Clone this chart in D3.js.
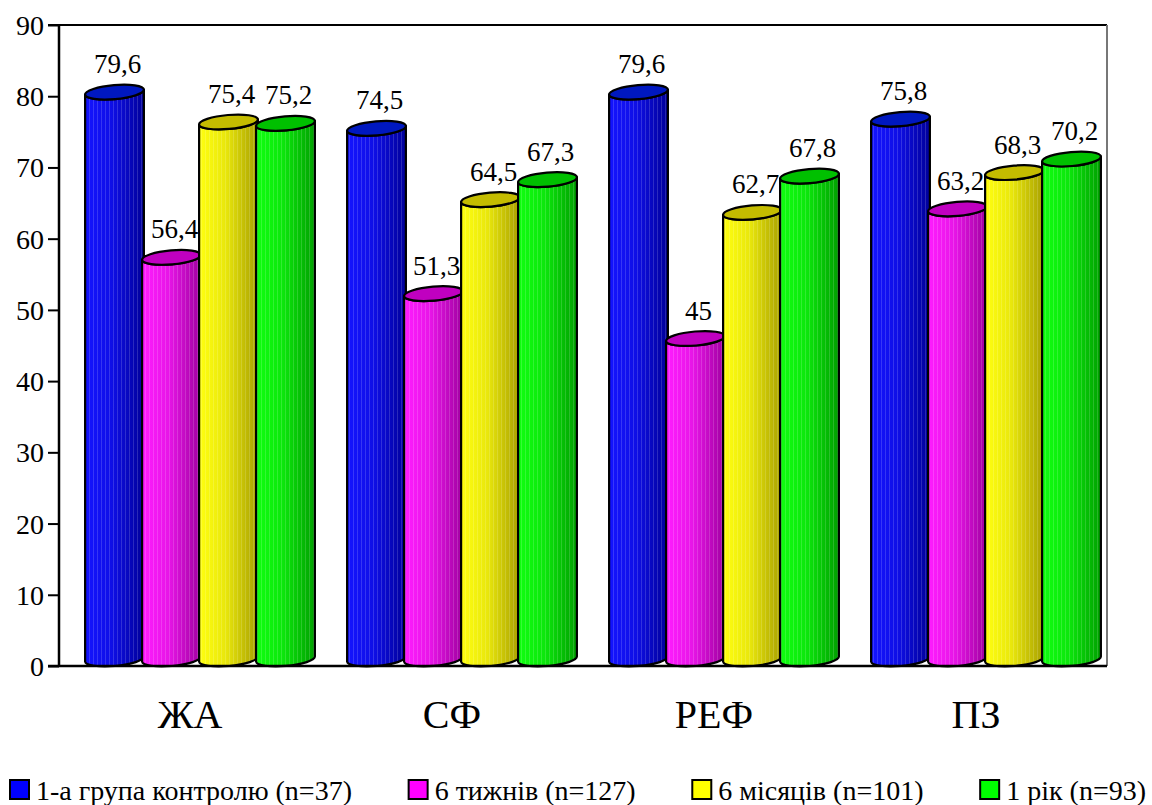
<!DOCTYPE html>
<html><head><meta charset="utf-8">
<script src="https://cdn.jsdelivr.net/npm/d3@7"></script>
<style>
#c, #c text, #c g { font-family: "Liberation Serif", Tinos, "Times New Roman", serif; }
</style>
</head>
<body style="margin:0;background:#fff"><svg id="c" width="1152" height="805" font-family="Liberation Serif, Tinos, Times New Roman, serif"></svg>
<script>
const categories = ["ЖА", "СФ", "РЕФ", "ПЗ"];
const seriesNames = ["1-а група контролю (n=37)", "6 тижнів (n=127)", "6 місяців (n=101)", "1 рік (n=93)"];
const control = [79.6, 74.5, 79.6, 75.8];
const weeks6 = [56.4, 51.3, 45, 63.2];
const months6 = [75.4, 64.5, 62.7, 68.3];
const year1 = [75.2, 67.3, 67.8, 70.2];
const series = [control, weeks6, months6, year1];
const yTicks = [0, 10, 20, 30, 40, 50, 60, 70, 80, 90];
const colors = [
  {light:"#1414ff", dark:"#00009a", top:"#0018c0", legend:"#0000ff"},
  {light:"#ff1cff", dark:"#a000a0", top:"#c000c0", legend:"#ff00ff"},
  {light:"#ffff10", dark:"#a8a000", top:"#c4bc00", legend:"#ffff00"},
  {light:"#10ff10", dark:"#00a000", top:"#00c000", legend:"#00ff00"}
];
const FONT = "Liberation Serif, Tinos, Times New Roman, serif";

const svg = d3.select("#c");
const L = 59, R = 1107, T = 25, B = 666;
const x = d3.scaleBand().domain(categories).range([L, R]);
const y = d3.scaleLinear().domain([0, 90]).range([B, T]);
const inner = d3.scaleBand().domain(d3.range(4)).range([-114, 114]);
const dx = 10, dy = 7, rx = 29.5, ry = 7, ang = -5;
const rad = ang * Math.PI / 180, cs = Math.cos(rad), sn = Math.sin(rad);

const defs = svg.append("defs");
colors.forEach((c, i) => {
  const g = defs.append("linearGradient").attr("id", "g" + i).attr("x1", 0).attr("x2", 1).attr("y1", 0).attr("y2", 0);
  g.append("stop").attr("offset", "0%").attr("stop-color", c.light);
  g.append("stop").attr("offset", "45%").attr("stop-color", d3.interpolateRgb(c.light, c.dark)(0.25));
  g.append("stop").attr("offset", "100%").attr("stop-color", c.dark);
});
const pat = defs.append("pattern").attr("id", "stripes").attr("patternUnits", "userSpaceOnUse").attr("width", 4).attr("height", 10);
pat.append("rect").attr("x", 1).attr("y", 0).attr("width", 0.7).attr("height", 10).attr("fill", "#fff").attr("opacity", 0.22);

svg.append("line").attr("x1", 48).attr("x2", R).attr("y1", T).attr("y2", T).attr("stroke", "#000").attr("stroke-width", 2);
svg.append("line").attr("x1", R).attr("x2", R).attr("y1", T).attr("y2", B).attr("stroke", "#777").attr("stroke-width", 2);

const yAxis = d3.axisLeft(y).tickValues(yTicks).tickSize(11).tickPadding(4).tickFormat(d3.format("d"));
const ga = svg.append("g").attr("transform", `translate(${L},0)`).call(yAxis).attr("font-family", FONT).attr("font-size", 28);
ga.select(".domain").attr("stroke", "#000").attr("stroke-width", 2.5).attr("d", `M0,${T}V${B}`);
ga.selectAll(".tick line").attr("stroke", "#000").attr("stroke-width", 2);
ga.selectAll(".tick text").attr("font-family", FONT).attr("font-size", 28).attr("fill", "#000").attr("dy", "0.34em");

const fmt = v => String(v).replace(".", ",");
series.forEach((vals, si) => {
  const c = colors[si];
  categories.forEach((cat, ci) => {
    const v = vals[ci];
    const cx = x(cat) + x.bandwidth() / 2 + dx + inner(si) + inner.bandwidth() / 2;
    const cyT = y(v) - dy, cyB = y(0) - dy;
    const ex = rx * cs, ey = rx * sn;
    const g = svg.append("g");
    const body = `M${cx - ex},${cyT - ey}L${cx - ex},${cyB - ey}A${rx},${ry} ${ang} 0 0 ${cx + ex},${cyB + ey}L${cx + ex},${cyT + ey}A${rx},${ry} ${ang} 0 1 ${cx - ex},${cyT - ey}Z`;
    g.append("path").attr("d", body).attr("fill", `url(#g${si})`);
    g.append("path").attr("d", body).attr("fill", "url(#stripes)");
    g.append("path").attr("d", body).attr("fill", "none").attr("stroke", "#000").attr("stroke-width", 2.2).attr("stroke-linejoin", "round");
    g.append("ellipse").attr("cx", cx).attr("cy", cyT).attr("rx", rx).attr("ry", ry)
      .attr("transform", `rotate(${ang},${cx},${cyT})`)
      .attr("fill", c.top).attr("stroke", "#000").attr("stroke-width", 2.2);
    svg.append("text").attr("x", cx + 3).attr("y", cyT - ry - 12).attr("text-anchor", "middle")
      .attr("font-family", FONT).attr("font-size", 27).attr("fill", "#000").text(fmt(v));
  });
});

const xAxis = d3.axisBottom(x).tickSize(0).tickPadding(0);
const gx = svg.append("g").attr("transform", `translate(0,${B})`).call(xAxis).attr("font-family", FONT).attr("font-size", 40);
gx.select(".domain").attr("stroke", "#000").attr("stroke-width", 2.5).attr("d", `M48,0H${R}`);
gx.selectAll(".tick text").attr("font-family", FONT).attr("font-size", 40).attr("fill", "#000").attr("y", 62).attr("dy", 0);

// legend spread across the full width like the reference (10 .. ~1148)
const legendFont = 28;
const lg = svg.append("g");
const ly = 800;
const items = seriesNames.map((name, i) => {
  const rect = lg.append("rect").attr("y", ly - 20).attr("width", 19).attr("height", 19)
    .attr("fill", colors[i].legend).attr("stroke", "#000").attr("stroke-width", 2);
  const t = lg.append("text").attr("y", ly)
    .attr("font-family", FONT).attr("font-size", legendFont).attr("fill", "#000").text(name);
  return {rect, t, w: 26 + t.node().getComputedTextLength()};
});
const totalW = d3.sum(items, d => d.w);
const gap = Math.max(14, (1146 - 10 - totalW) / (items.length - 1));
let lx = 10;
items.forEach(it => {
  it.rect.attr("x", lx);
  it.t.attr("x", lx + 26);
  lx += it.w + gap;
});
</script></body></html>
